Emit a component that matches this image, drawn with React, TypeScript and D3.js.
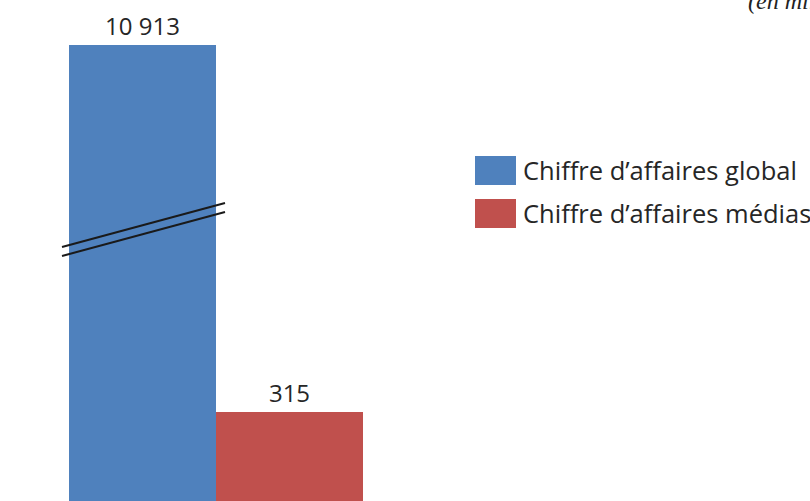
import React from 'react';
import * as d3 from 'd3';

const categories = ['Chiffre d’affaires global', 'Chiffre d’affaires médias'];
const values = [10913, 315];
const valueLabels = ['10 913', '315'];
const colors = ['#4F81BD', '#C0504D'];
const unitNote = '(en millions d’euros)';

const W = 810;
const H = 501;
const FONT = "'Open Sans', Carlito, Lato, sans-serif";

const App: React.FC = () => {
  const x = d3.scaleBand<string>().domain(categories).range([69, 363]).paddingInner(0).paddingOuter(0);
  // broken axis: linear up to the small value, compressed above the break
  const y = d3.scaleLinear().domain([0, values[1], values[0]]).range([H, 412, 45]);
  const color = d3.scaleOrdinal<string, string>().domain(categories).range(colors);

  const bw = x.bandwidth();
  const x0 = x(categories[0]) as number;
  const breakY = 233.5;

  return (
    <svg width={W} height={H} viewBox={`0 0 ${W} ${H}`} style={{ position: 'absolute', left: 0, top: 0 }}>
      <rect width={W} height={H} fill="#fff" />
      <text x={748} y={9} fontFamily="'Liberation Serif', 'DejaVu Serif', serif" fontStyle="italic" fontSize={24} fill="#222">
        {unitNote}
      </text>

      {categories.map((c, i) => (
        <g key={c}>
          <rect x={x(c)} y={y(values[i])} width={bw} height={H - y(values[i])} fill={color(c)} />
          <text
            x={(x(c) as number) + bw / 2}
            y={y(values[i]) - 10}
            textAnchor="middle"
            fontFamily={FONT}
            fontSize={24}
            fill="#262626"
          >
            {valueLabels[i]}
          </text>
        </g>
      ))}

      {/* break marks */}
      {[-4.5, 4.5].map((d) => (
        <line
          key={d}
          x1={x0 - 7}
          y1={breakY + 18 + d}
          x2={x0 + bw + 9}
          y2={breakY - 26 + d}
          stroke="#1a1a1a"
          strokeWidth={2}
        />
      ))}

      {/* legend */}
      {categories.map((c, i) => (
        <g key={c} transform={`translate(475,${156 + i * 43})`}>
          <rect width={41} height={29} fill={color(c)} />
          <text x={48} y={24} fontFamily={FONT} fontSize={25.5} fill="#262626">
            {c}
          </text>
        </g>
      ))}
    </svg>
  );
};

export default App;
